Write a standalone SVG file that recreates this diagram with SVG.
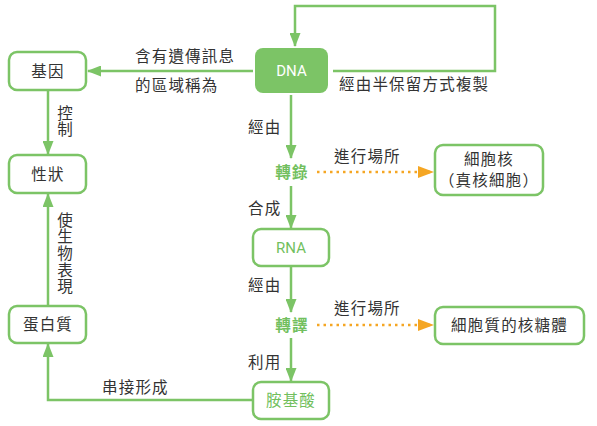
<svg xmlns="http://www.w3.org/2000/svg" width="597" height="426" viewBox="0 0 597 426">
<style>
.box{fill:#fff;stroke:#7cc466;stroke-width:2.5}
.t{font-family:"Noto Sans CJK TC","Noto Sans CJK SC",sans-serif;font-size:15.5px;fill:#333;letter-spacing:1.2px}
.c{text-anchor:middle}
.v{writing-mode:vertical-rl;text-orientation:upright}
.g{fill:#72bf5e}
.b{font-weight:bold}
.ln{fill:none;stroke:#7cc466;stroke-width:2.5}
.dot{fill:none;stroke:#f5a623;stroke-width:2.5;stroke-dasharray:2.5 4}
.en{font-family:"Roboto","Liberation Sans",sans-serif;font-size:15px;letter-spacing:0}
</style>
<defs>
<marker id="ag" markerUnits="userSpaceOnUse" markerWidth="14" markerHeight="11" refX="13" refY="5.5" orient="auto">
<path d="M0,0 L14,5.5 L0,11 z" fill="#7cc466"/>
</marker>
<marker id="ao" markerUnits="userSpaceOnUse" markerWidth="16" markerHeight="12" refX="15" refY="6" orient="auto">
<path d="M0,0 L16,6 L0,12 z" fill="#f5a623"/>
</marker>
</defs>
<g id="connectors">
<path class="ln" d="M333,71 H495 V6 H295 V46" marker-end="url(#ag)"/>
<path class="ln" d="M253,71 H88" marker-end="url(#ag)"/>
<path class="ln" d="M48,90 V154" marker-end="url(#ag)"/>
<path class="ln" d="M48,306 V194" marker-end="url(#ag)"/>
<path class="ln" d="M253,400 H48 V344" marker-end="url(#ag)"/>
<path class="ln" d="M291,95 V158" marker-end="url(#ag)"/>
<path class="ln" d="M291,186 V228" marker-end="url(#ag)"/>
<path class="ln" d="M291,267 V312" marker-end="url(#ag)"/>
<path class="ln" d="M291,338 V381" marker-end="url(#ag)"/>
<path class="dot" d="M317,172 H433" marker-end="url(#ao)"/>
<path class="dot" d="M317,325 H433" marker-end="url(#ao)"/>
<text class="t" x="135" y="62">含有遺傳訊息</text>
<text class="t" x="135" y="91">的區域稱為</text>
<text class="t" x="339" y="90">經由半保留方式複製</text>
<text class="t v" x="65" y="105">控制</text>
<text class="t v" x="65" y="212">使生物表現</text>
<text class="t" x="102" y="393">串接形成</text>
<text class="t" x="248" y="133">經由</text>
<text class="t" x="248" y="214">合成</text>
<text class="t" x="248" y="291">經由</text>
<text class="t" x="248" y="368">利用</text>
<text class="t" x="334" y="162">進行場所</text>
<text class="t" x="334" y="314">進行場所</text>
<text class="t c g b" x="292" y="178">轉錄</text>
<text class="t c g b" x="292" y="331">轉譯</text>
</g>
<g id="dna">
<rect x="255" y="48" width="73" height="45" rx="8" fill="#7cc466"/>
<text class="t c en" x="291.5" y="76" style="fill:#fff">DNA</text>
</g>
<g id="gene">
<rect class="box" x="9" y="52" width="77" height="38" rx="8"/>
<text class="t c" x="48" y="77">基因</text>
</g>
<g id="trait">
<rect class="box" x="9" y="155" width="77" height="38" rx="8"/>
<text class="t c" x="48" y="180">性狀</text>
</g>
<g id="protein">
<rect class="box" x="9" y="306" width="77" height="37" rx="8"/>
<text class="t c" x="48" y="330">蛋白質</text>
</g>
<g id="rna">
<rect class="box" x="253" y="229" width="76" height="37" rx="8"/>
<text class="t c en g" x="291" y="253">RNA</text>
</g>
<g id="aminoacid">
<rect class="box" x="253" y="382" width="76" height="37" rx="8"/>
<text class="t c g" x="291" y="406">胺基酸</text>
</g>
<g id="nucleus">
<rect class="box" x="435" y="145" width="108" height="50" rx="8"/>
<text class="t c" x="489" y="165">細胞核</text>
<text class="t c" x="489" y="186">（真核細胞）</text>
</g>
<g id="ribosome">
<rect class="box" x="435" y="307" width="149" height="37" rx="8"/>
<text class="t c" x="509.5" y="331">細胞質的核糖體</text>
</g>
</svg>
